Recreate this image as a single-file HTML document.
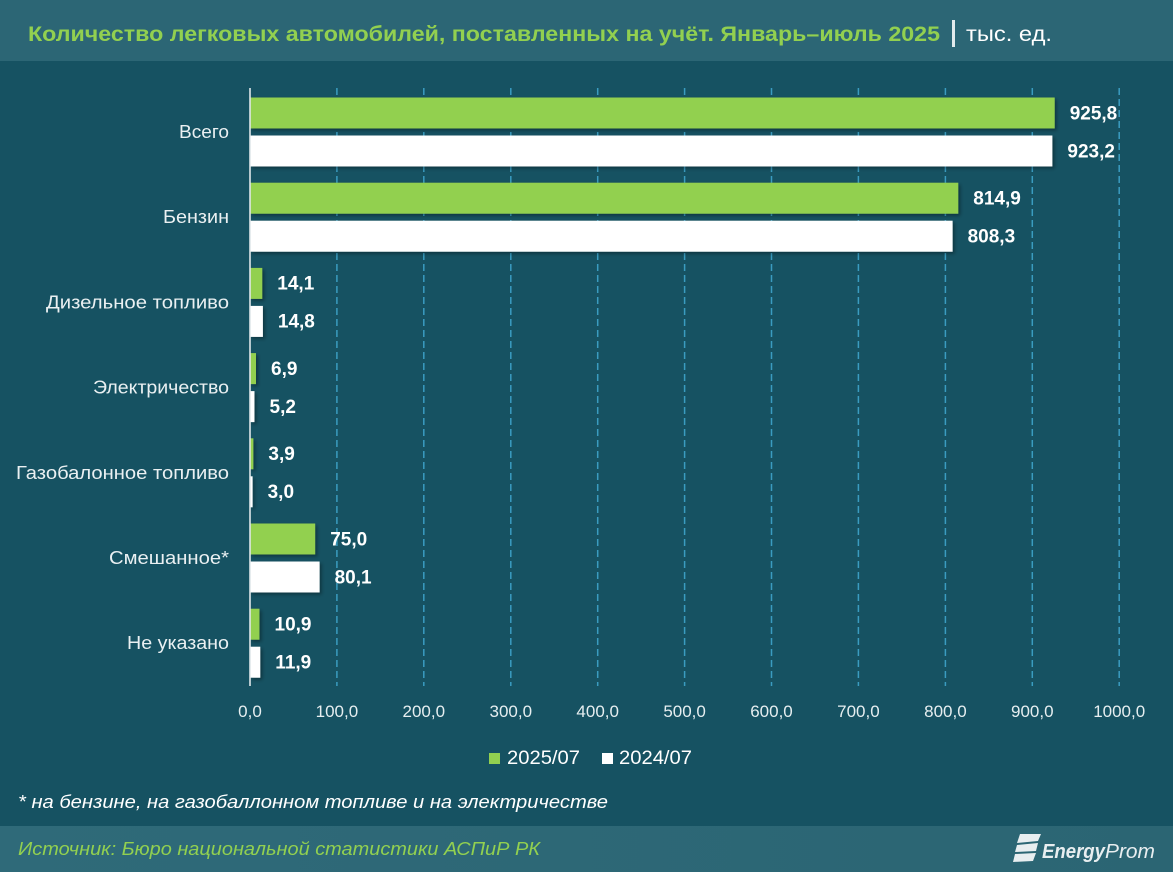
<!DOCTYPE html>
<html><head><meta charset="utf-8"><style>
html,body{margin:0;padding:0;background:#165262;}
svg{display:block;}
text{font-family:"Liberation Sans","DejaVu Sans",sans-serif;}
</style></head><body>
<svg width="1173" height="872" viewBox="0 0 1173 872" xmlns="http://www.w3.org/2000/svg">
<defs>
<filter id="sh" x="-5%" y="-20%" width="115%" height="160%">
<feDropShadow dx="2" dy="2" stdDeviation="1.8" flood-color="#000" flood-opacity="0.35"/>
</filter>
<linearGradient id="fg" x1="0" y1="0" x2="1" y2="0">
<stop offset="0" stop-color="#2f6a79"/><stop offset="1" stop-color="#2b6573"/>
</linearGradient>
</defs>
<rect x="0" y="0" width="1173" height="872" fill="#165262"/>
<rect x="0" y="0" width="1173" height="61" fill="#2c6675"/>
<rect x="0" y="826" width="1173" height="46" fill="url(#fg)"/>

<!-- title -->
<text x="28" y="41" font-size="21" font-weight="bold" fill="#92d050" textLength="912" lengthAdjust="spacingAndGlyphs">Количество легковых автомобилей, поставленных на учёт. Январь–июль 2025</text>
<rect x="952" y="20" width="3" height="27" fill="#e2eaec"/>
<text x="966" y="41" font-size="21" fill="#ffffff" textLength="86" lengthAdjust="spacingAndGlyphs">тыс. ед.</text>

<!-- gridlines -->
<g stroke="#3a9cc0" stroke-width="1.5" stroke-dasharray="7,4">
<line x1="336.9" y1="88" x2="336.9" y2="686"/>
<line x1="423.8" y1="88" x2="423.8" y2="686"/>
<line x1="510.8" y1="88" x2="510.8" y2="686"/>
<line x1="597.7" y1="88" x2="597.7" y2="686"/>
<line x1="684.6" y1="88" x2="684.6" y2="686"/>
<line x1="771.5" y1="88" x2="771.5" y2="686"/>
<line x1="858.4" y1="88" x2="858.4" y2="686"/>
<line x1="945.4" y1="88" x2="945.4" y2="686"/>
<line x1="1032.3" y1="88" x2="1032.3" y2="686"/>
<line x1="1119.2" y1="88" x2="1119.2" y2="686"/>
</g>

<!-- bars -->
<g filter="url(#sh)">
<rect x="250" y="97.5" width="804.7" height="31" fill="#92d050"/>
<rect x="250" y="135.5" width="802.4" height="31" fill="#ffffff"/>
<rect x="250" y="182.7" width="708.3" height="31" fill="#92d050"/>
<rect x="250" y="220.7" width="702.6" height="31" fill="#ffffff"/>
<rect x="250" y="267.9" width="12.3" height="31" fill="#92d050"/>
<rect x="250" y="305.9" width="12.9" height="31" fill="#ffffff"/>
<rect x="250" y="353.1" width="6.0" height="31" fill="#92d050"/>
<rect x="250" y="391.1" width="4.5" height="31" fill="#ffffff"/>
<rect x="250" y="438.3" width="3.4" height="31" fill="#92d050"/>
<rect x="250" y="476.3" width="2.6" height="31" fill="#ffffff"/>
<rect x="250" y="523.5" width="65.2" height="31" fill="#92d050"/>
<rect x="250" y="561.5" width="69.6" height="31" fill="#ffffff"/>
<rect x="250" y="608.7" width="9.5" height="31" fill="#92d050"/>
<rect x="250" y="646.7" width="10.3" height="31" fill="#ffffff"/>
</g>

<!-- axis -->
<line x1="250" y1="88" x2="250" y2="686" stroke="#dfe7ea" stroke-width="1.6"/>

<!-- value labels -->
<g font-size="19" font-weight="bold" fill="#ffffff">
<text x="1069.7" y="119.3">925,8</text>
<text x="1067.4" y="157.3">923,2</text>
<text x="973.3" y="204.5">814,9</text>
<text x="967.6" y="242.5">808,3</text>
<text x="277.3" y="289.7">14,1</text>
<text x="277.9" y="327.7">14,8</text>
<text x="271" y="374.9">6,9</text>
<text x="269.5" y="412.9">5,2</text>
<text x="268.4" y="460.1">3,9</text>
<text x="267.6" y="498.1">3,0</text>
<text x="330.2" y="545.3">75,0</text>
<text x="334.6" y="583.3">80,1</text>
<text x="274.5" y="630.5">10,9</text>
<text x="275.3" y="668.5">11,9</text>
</g>

<!-- category labels -->
<g font-size="18" fill="#eaf0f2" text-anchor="end">
<text x="229" y="138" textLength="50" lengthAdjust="spacingAndGlyphs">Всего</text>
<text x="229" y="223.2" textLength="66" lengthAdjust="spacingAndGlyphs">Бензин</text>
<text x="229" y="308.4" textLength="183" lengthAdjust="spacingAndGlyphs">Дизельное топливо</text>
<text x="229" y="393.6" textLength="136" lengthAdjust="spacingAndGlyphs">Электричество</text>
<text x="229" y="478.8" textLength="213" lengthAdjust="spacingAndGlyphs">Газобалонное топливо</text>
<text x="229" y="564" textLength="120" lengthAdjust="spacingAndGlyphs">Смешанное*</text>
<text x="229" y="649.2" textLength="102" lengthAdjust="spacingAndGlyphs">Не указано</text>
</g>

<!-- tick labels -->
<g font-size="17" fill="#e6eef0" text-anchor="middle">
<text x="250" y="717">0,0</text>
<text x="336.9" y="717">100,0</text>
<text x="423.8" y="717">200,0</text>
<text x="510.8" y="717">300,0</text>
<text x="597.7" y="717">400,0</text>
<text x="684.6" y="717">500,0</text>
<text x="771.5" y="717">600,0</text>
<text x="858.4" y="717">700,0</text>
<text x="945.4" y="717">800,0</text>
<text x="1032.3" y="717">900,0</text>
<text x="1119.2" y="717">1000,0</text>
</g>

<!-- legend -->
<rect x="489" y="753" width="11" height="11" fill="#92d050"/>
<text x="507" y="764" font-size="19.5" fill="#ffffff" textLength="73" lengthAdjust="spacingAndGlyphs">2025/07</text>
<rect x="602" y="753" width="11" height="11" fill="#ffffff"/>
<text x="619" y="764" font-size="19.5" fill="#ffffff" textLength="73" lengthAdjust="spacingAndGlyphs">2024/07</text>

<!-- footnote -->
<text x="18" y="808" font-size="18" font-style="italic" fill="#ffffff" textLength="590" lengthAdjust="spacingAndGlyphs">* на бензине, на газобаллонном топливе и на электричестве</text>

<!-- source -->
<text x="18" y="855" font-size="18" font-style="italic" fill="#92d050" textLength="522" lengthAdjust="spacingAndGlyphs">Источник: Бюро национальной статистики АСПиР РК</text>

<!-- logo -->
<g fill="#e8eef0">
<path d="M1020 834 L1041 834 L1038 841 L1017 843 Z"/>
<path d="M1017 845 L1038 843 L1036 851 L1015 852 Z"/>
<path d="M1015 854 L1036 853 L1033 861 L1013 862 Z"/>
</g>
<text x="1042" y="858" font-size="20" font-weight="bold" font-style="italic" fill="#e8eef0" textLength="63" lengthAdjust="spacingAndGlyphs">Energy</text>
<text x="1105" y="858" font-size="20" font-style="italic" fill="#e8eef0" textLength="50" lengthAdjust="spacingAndGlyphs">Prom</text>
</svg>
</body></html>
